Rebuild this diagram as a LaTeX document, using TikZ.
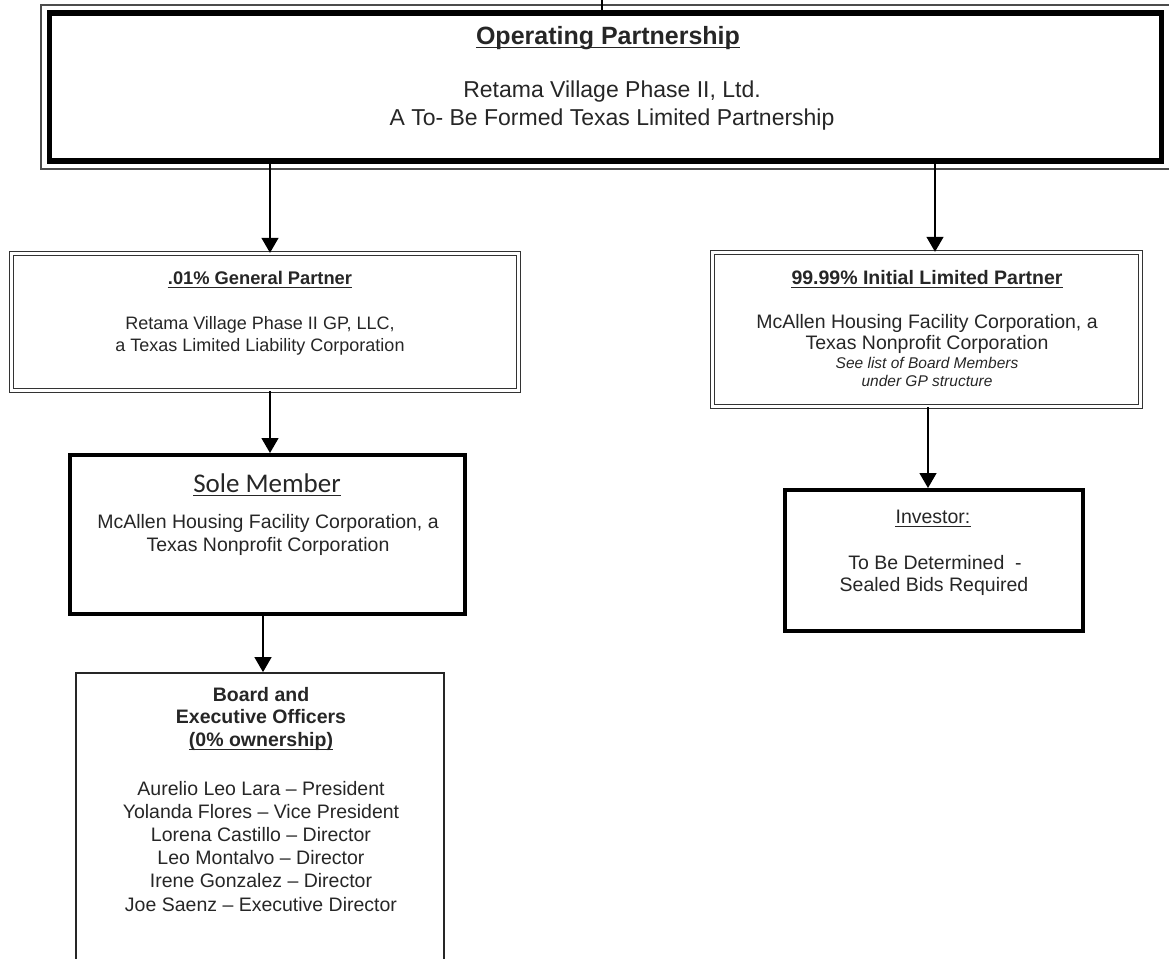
\documentclass[tikz,border=0pt]{standalone}
\usepackage{fontspec}
\setmainfont{Liberation Sans}
\newfontfamily\carlito{Carlito}
\usetikzlibrary{arrows.meta}

\tikzset{
  txt/.style={inner sep=0pt, text height=.72em, text depth=0pt, text=black!85},
  body/.style={txt, font=\fontsize{19.5}{23}\selectfont},
  small/.style={txt, font=\fontsize{18}{22}\selectfont},
  head/.style={txt, font=\bfseries\fontsize{19.5}{23}\selectfont},
  note/.style={txt, font=\itshape\fontsize{15.5}{18}\selectfont},
  thickbox/.style={draw, line width=4pt, inner sep=0pt},
  dblbox/.style={draw=black!80, line width=1.4pt, double=white, double distance=2.6pt, inner sep=0pt},
  thinbox/.style={draw=black!85, line width=1.8pt, inner sep=0pt},
  arr/.style={line width=1.4pt, -{Triangle[length=15pt,width=17pt]}},
  uline/.style={draw=black!85, line width=#1},
  uline/.default=1.3pt,
}
% underline a text node just below its baseline
\newcommand\underlinenode[2][1.3pt]{%
  \draw[uline=#1] ([yshift=-2.8pt]#2.south west) -- ([yshift=-2.8pt]#2.south east);}

\begin{document}
\begin{tikzpicture}[x=1pt,y=-1pt]
\useasboundingbox (0,0) rectangle (1169,958);
\clip (0,0) rectangle (1169,958);

% column positions of the vertical connectors
\coordinate (colL) at (270,0);
\coordinate (colR) at (935,0);
\coordinate (colI) at (928,0);
\coordinate (colB) at (263,0);
\coordinate (up) at (602,-6);

% ---- Operating partnership (thick frame with a thin outer frame)
\node[draw, line width=5.5pt, inner sep=0pt, minimum width=1112pt, minimum height=148pt] (top) at (605.5,87) {};
\draw[line width=2.2pt, black!70] ([shift={(-5.5,-5.5)}]top.north west) rectangle ([shift={(5.5,5.5)}]top.south east);
\node[txt, font=\bfseries\fontsize{25}{29}\selectfont] (topT) at (608,41) {Operating Partnership};
\node[txt, font=\fontsize{23}{27}\selectfont] (topA) at (612,94) {Retama Village Phase II, Ltd.};
\node[txt, font=\fontsize{23}{27}\selectfont] (topB) at (612,122) {A To- Be Formed Texas Limited Partnership};
\underlinenode[1.8pt]{topT}

% ---- General partner
\node[dblbox, minimum width=507pt, minimum height=137pt] (gp) at (265,322) {};
\node[txt, font=\bfseries\fontsize{18.3}{22}\selectfont] (gpT) at (260,281) {.01\% General Partner};
\node[small] (gpA) at (260,326) {Retama Village Phase II GP, LLC,};
\node[small] (gpB) at (260,348) {a Texas Limited Liability Corporation};
\underlinenode{gpT}

% ---- Limited partner
\node[dblbox, minimum width=428pt, minimum height=154pt] (lp) at (926.5,329.5) {};
\node[head] (lpT) at (927,281) {99.99\% Initial Limited Partner};
\node[body] (lpA) at (927,325) {McAllen Housing Facility Corporation, a};
\node[body] (lpB) at (927,346) {Texas Nonprofit Corporation};
\node[note] (lpC) at (927,365) {See list of Board Members};
\node[note] (lpD) at (927,383) {under GP structure};
\underlinenode{lpT}

% ---- Sole member
\node[thickbox, minimum width=395pt, minimum height=159pt] (sole) at (267.5,534.5) {};
\node[txt, font=\carlito\fontsize{27}{31}\selectfont] (soleT) at (267,489) {Sole\ Member};
\node[body] (soleA) at (268,525) {McAllen Housing Facility Corporation, a};
\node[body] (soleB) at (268,548) {Texas Nonprofit Corporation};
\underlinenode[1.5pt]{soleT}

% ---- Investor
\node[thickbox, minimum width=298pt, minimum height=141pt] (inv) at (934,560.5) {};
\node[body] (invT) at (933,520) {Investor:};
\node[body] (invA) at (935,566) {To Be Determined\ \ -};
\node[body] (invB) at (934,588) {Sealed Bids Required};
\underlinenode[1.1pt]{invT}

% ---- Board and officers (runs past the lower edge)
\node[thinbox, minimum width=368pt, minimum height=320pt] (board) at (260,833) {};
\node[head] (bdA) at (261,698) {Board and};
\node[head] (bdB) at (261,720) {Executive Officers};
\node[head] (bdC) at (261,743) {(0\% ownership)};
\underlinenode[1.1pt]{bdC}
\foreach \n/\y/\s in {1/792/Aurelio Leo Lara -- President,
                      2/815/Yolanda Flores -- Vice President,
                      3/838/Lorena Castillo -- Director,
                      4/861/Leo Montalvo -- Director,
                      5/884/Irene Gonzalez -- Director,
                      6/908/Joe Saenz -- Executive Director}
  \node[body] (bd\n) at (261,\y) {\s};

% ---- connectors
\draw[line width=1.4pt] (up) -- (top.north -| up);
\draw[arr] (top.south -| colL) -- (gp.north -| colL);
\draw[arr] (top.south -| colR) -- (lp.north -| colR);
\draw[arr] (gp.south -| colL) -- (sole.north -| colL);
\draw[arr] (lp.south -| colI) -- (inv.north -| colI);
\draw[arr] (sole.south -| colB) -- (board.north -| colB);
\end{tikzpicture}
\end{document}
